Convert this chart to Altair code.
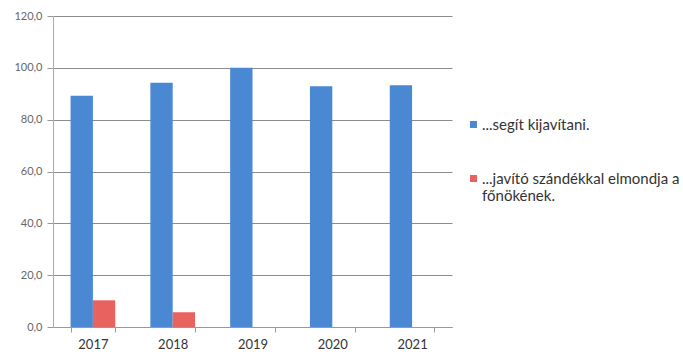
import altair as alt
import pandas as pd

years = ["2017", "2018", "2019", "2020", "2021"]
series_names = ["...segít kijavítani.", "...javító szándékkal elmondja a\nfőnökének."]
blue_values = [89.2, 94.2, 100.0, 92.9, 93.3]
red_values = [10.3, 5.7, 0.0, 0.0, 0.0]
colors = ["#4A88D4", "#E8625F"]

rows = []
for y, v in zip(years, blue_values):
    rows.append({"year": y, "series": series_names[0], "value": v})
for y, v in zip(years, red_values):
    rows.append({"year": y, "series": series_names[1], "value": v})
df = pd.DataFrame(rows)

font = "Lato"

chart = alt.Chart(df).mark_bar().encode(
    x=alt.X("year:N", title=None, sort=years,
            scale=alt.Scale(paddingInner=0.44, paddingOuter=0.22),
            axis=alt.Axis(labelAngle=0, tickBand="extent", tickSize=5,
                          labelFontSize=13, labelPadding=6, labelColor="#333",
                          domainColor="#999", tickColor="#999", grid=False)),
    xOffset=alt.XOffset("series:N", sort=series_names),
    y=alt.Y("value:Q", title=None,
            scale=alt.Scale(domain=[0, 120], nice=False),
            axis=alt.Axis(values=[0, 20, 40, 60, 80, 100, 120],
                          labelExpr="replace(format(datum.value, '.1f'), '.', ',')",
                          labelFontSize=11, labelColor="#666", tickSize=6,
                          labelPadding=5, domainColor="#aaa", tickColor="#999",
                          gridColor="#8c8c8c", gridWidth=1)),
    color=alt.Color("series:N", sort=series_names,
                    scale=alt.Scale(domain=series_names, range=colors),
                    legend=alt.Legend(title=None, orient="none", legendX=413, legendY=101,
                                      symbolType="square", symbolSize=49,
                                      symbolStrokeWidth=0, labelFontSize=15,
                                      labelColor="#333", rowPadding=38,
                                      labelLimit=300, labelOffset=1,
                                      labelExpr="split(datum.label, '\\n')",
                                      labelBaseline="middle")),
).properties(
    width=399, height=311,
    padding={"left": 53, "top": 16, "right": 231, "bottom": 27},
    autosize=alt.AutoSizeParams(type="none"),
).configure(font=font).configure_view(strokeOpacity=0).configure_axis(labelFont=font).configure_legend(labelFont=font)

chart.save("out.html", embed_options={"renderer": "svg", "actions": False})
